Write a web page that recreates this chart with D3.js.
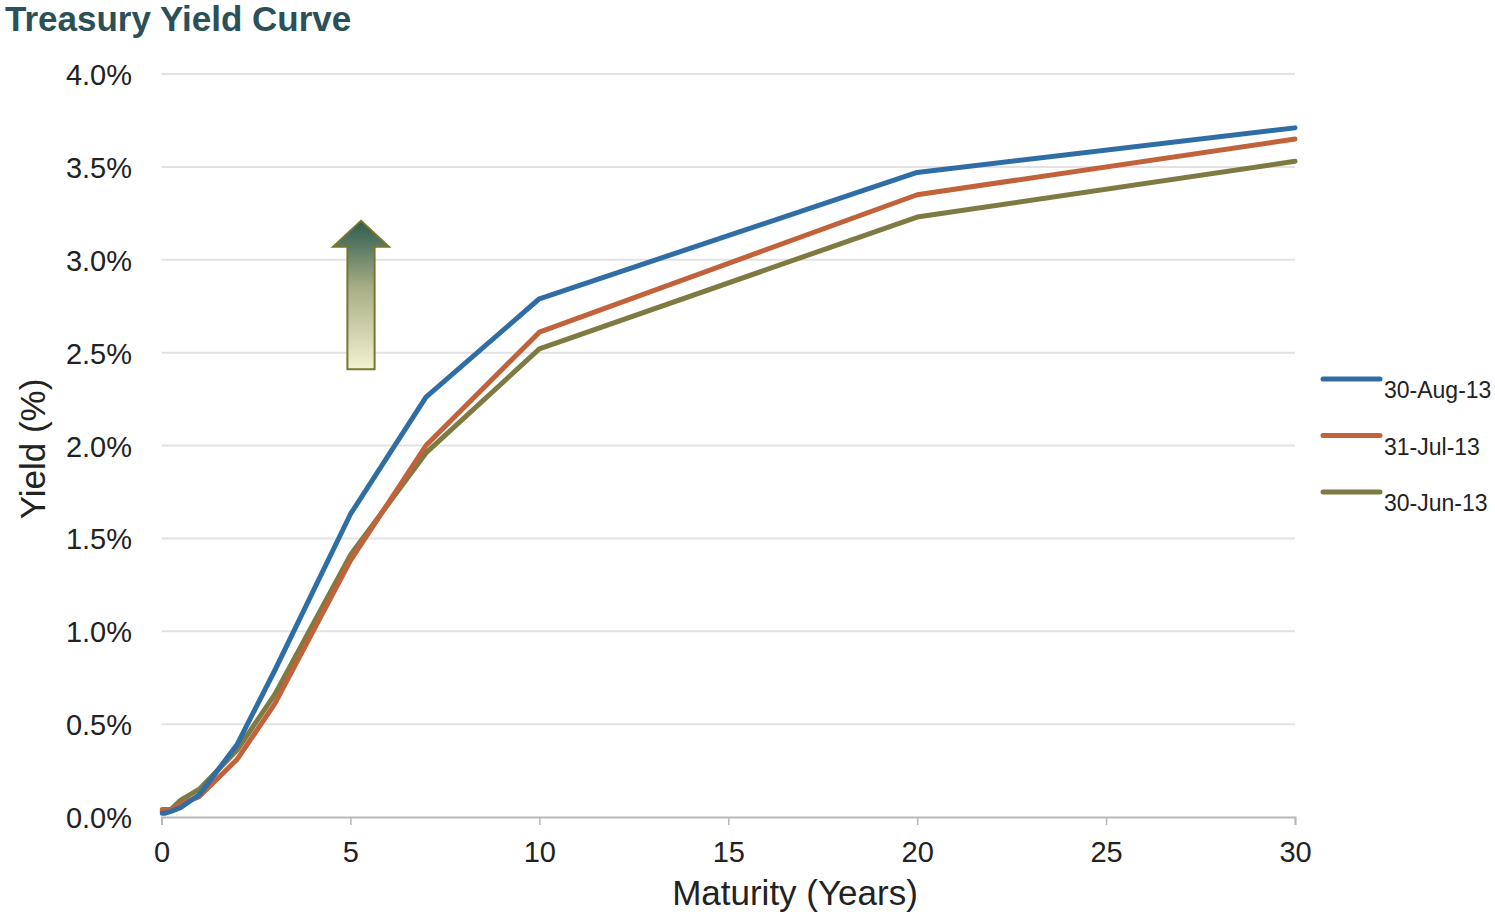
<!DOCTYPE html>
<html><head><meta charset="utf-8">
<script src="https://cdn.jsdelivr.net/npm/d3@7"></script>
<style>body{margin:0;background:#fff;} svg{display:block;font-family:"Liberation Sans",Arial,sans-serif;}</style>
</head><body>
<script>
const maturities = [0.083, 0.25, 0.5, 1, 2, 3, 5, 7, 10, 20, 30];
const aug30 = [0.02, 0.03, 0.05, 0.12, 0.39, 0.79, 1.63, 2.26, 2.79, 3.47, 3.71];
const jul31 = [0.04, 0.04, 0.07, 0.11, 0.31, 0.61, 1.38, 2.00, 2.61, 3.35, 3.65];
const jun30 = [0.03, 0.04, 0.09, 0.15, 0.36, 0.66, 1.41, 1.96, 2.52, 3.23, 3.53];
const seriesNames = ["30-Aug-13", "31-Jul-13", "30-Jun-13"];
const seriesColors = ["#2f6ea5", "#c2623b", "#7d7b42"];
const yTicks = [0, 0.5, 1.0, 1.5, 2.0, 2.5, 3.0, 3.5, 4.0];
const xTicks = [0, 5, 10, 15, 20, 25, 30];

const W = 1495, H = 915;
const svg = d3.select("body").append("svg").attr("width", W).attr("height", H);
const x = d3.scaleLinear().domain([0, 30]).range([161.5, 1295]);
const y = d3.scaleLinear().domain([0, 4]).range([817, 74]);

// gridlines
svg.append("g").selectAll("line").data(yTicks.slice(1)).join("line")
  .attr("x1", x(0)).attr("x2", x(30)).attr("y1", d => y(d)).attr("y2", d => y(d))
  .attr("stroke", "#e2e2e2").attr("stroke-width", 2);

// y labels
svg.append("g").selectAll("text").data(yTicks).join("text")
  .attr("x", 132).attr("y", d => y(d) + 11).attr("text-anchor", "end")
  .attr("font-size", 29).attr("fill", "#222").text(d => d.toFixed(1) + "%");

// x axis
const xAxis = d3.axisBottom(x).tickValues(xTicks).tickSize(8).tickFormat(d3.format("d"));
const gx = svg.append("g").attr("transform", `translate(0,${y(0)})`).call(xAxis);
gx.select(".domain").attr("stroke", "#b8b8b8").attr("stroke-width", 2);
gx.selectAll(".tick line").attr("stroke", "#b8b8b8").attr("stroke-width", 1.5);
gx.selectAll(".tick text").attr("font-size", 29).attr("fill", "#222")
  .attr("dy", 0).attr("y", 45).attr("font-family", "Liberation Sans, Arial, sans-serif");

// arrow annotation (data units)
const defs = svg.append("defs");
const grad = defs.append("linearGradient").attr("id", "ag").attr("x1", 0).attr("y1", 0).attr("x2", 0).attr("y2", 1);
grad.append("stop").attr("offset", "0%").attr("stop-color", "#2c5a4f");
grad.append("stop").attr("offset", "45%").attr("stop-color", "#a8ae85");
grad.append("stop").attr("offset", "100%").attr("stop-color", "#f2f2cf");
const ax = 5.28, headHalf = 0.74, shaftHalf = 0.36, aTop = 3.21, aHead = 3.07, aBot = 2.41;
const arrowPts = [
  [ax, aTop], [ax + headHalf, aHead], [ax + shaftHalf, aHead], [ax + shaftHalf, aBot],
  [ax - shaftHalf, aBot], [ax - shaftHalf, aHead], [ax - headHalf, aHead]
];
svg.append("path").attr("d", "M" + arrowPts.map(p => [x(p[0]), y(p[1])].join(",")).join("L") + "Z")
  .attr("fill", "url(#ag)").attr("stroke", "#77772f").attr("stroke-width", 2);

// lines
const allSeries = [aug30, jul31, jun30];
const drawOrder = [2, 1, 0];
drawOrder.forEach(k => {
  const pts = [[0.02, allSeries[k][0]]].concat(allSeries[k].map((v, i) => [maturities[i], v]));
  svg.append("path").datum(pts)
    .attr("d", d3.line().x(d => x(d[0])).y(d => y(d[1])))
    .attr("fill", "none").attr("stroke", seriesColors[k]).attr("stroke-width", 5)
    .attr("stroke-linejoin", "round").attr("stroke-linecap", "round");
});

// legend
const lg = svg.append("g");
seriesNames.forEach((n, i) => {
  const yy = 379 + i * 56.5;
  lg.append("line").attr("x1", 1323).attr("x2", 1380).attr("y1", yy).attr("y2", yy)
    .attr("stroke", seriesColors[i]).attr("stroke-width", 5).attr("stroke-linecap", "round");
  lg.append("text").attr("x", 1384).attr("y", yy + 19).attr("font-size", 23).attr("fill", "#222").text(n);
});

// titles
svg.append("text").attr("x", 5).attr("y", 31).attr("font-size", 35).attr("font-weight", "bold")
  .attr("fill", "#2b5058").text("Treasury Yield Curve");
svg.append("text").attr("x", 795).attr("y", 905).attr("text-anchor", "middle")
  .attr("font-size", 35).attr("fill", "#222").text("Maturity (Years)");
svg.append("text").attr("transform", "translate(45,449) rotate(-90)").attr("text-anchor", "middle")
  .attr("font-size", 35).attr("fill", "#222").text("Yield (%)");
</script>
</body></html>
